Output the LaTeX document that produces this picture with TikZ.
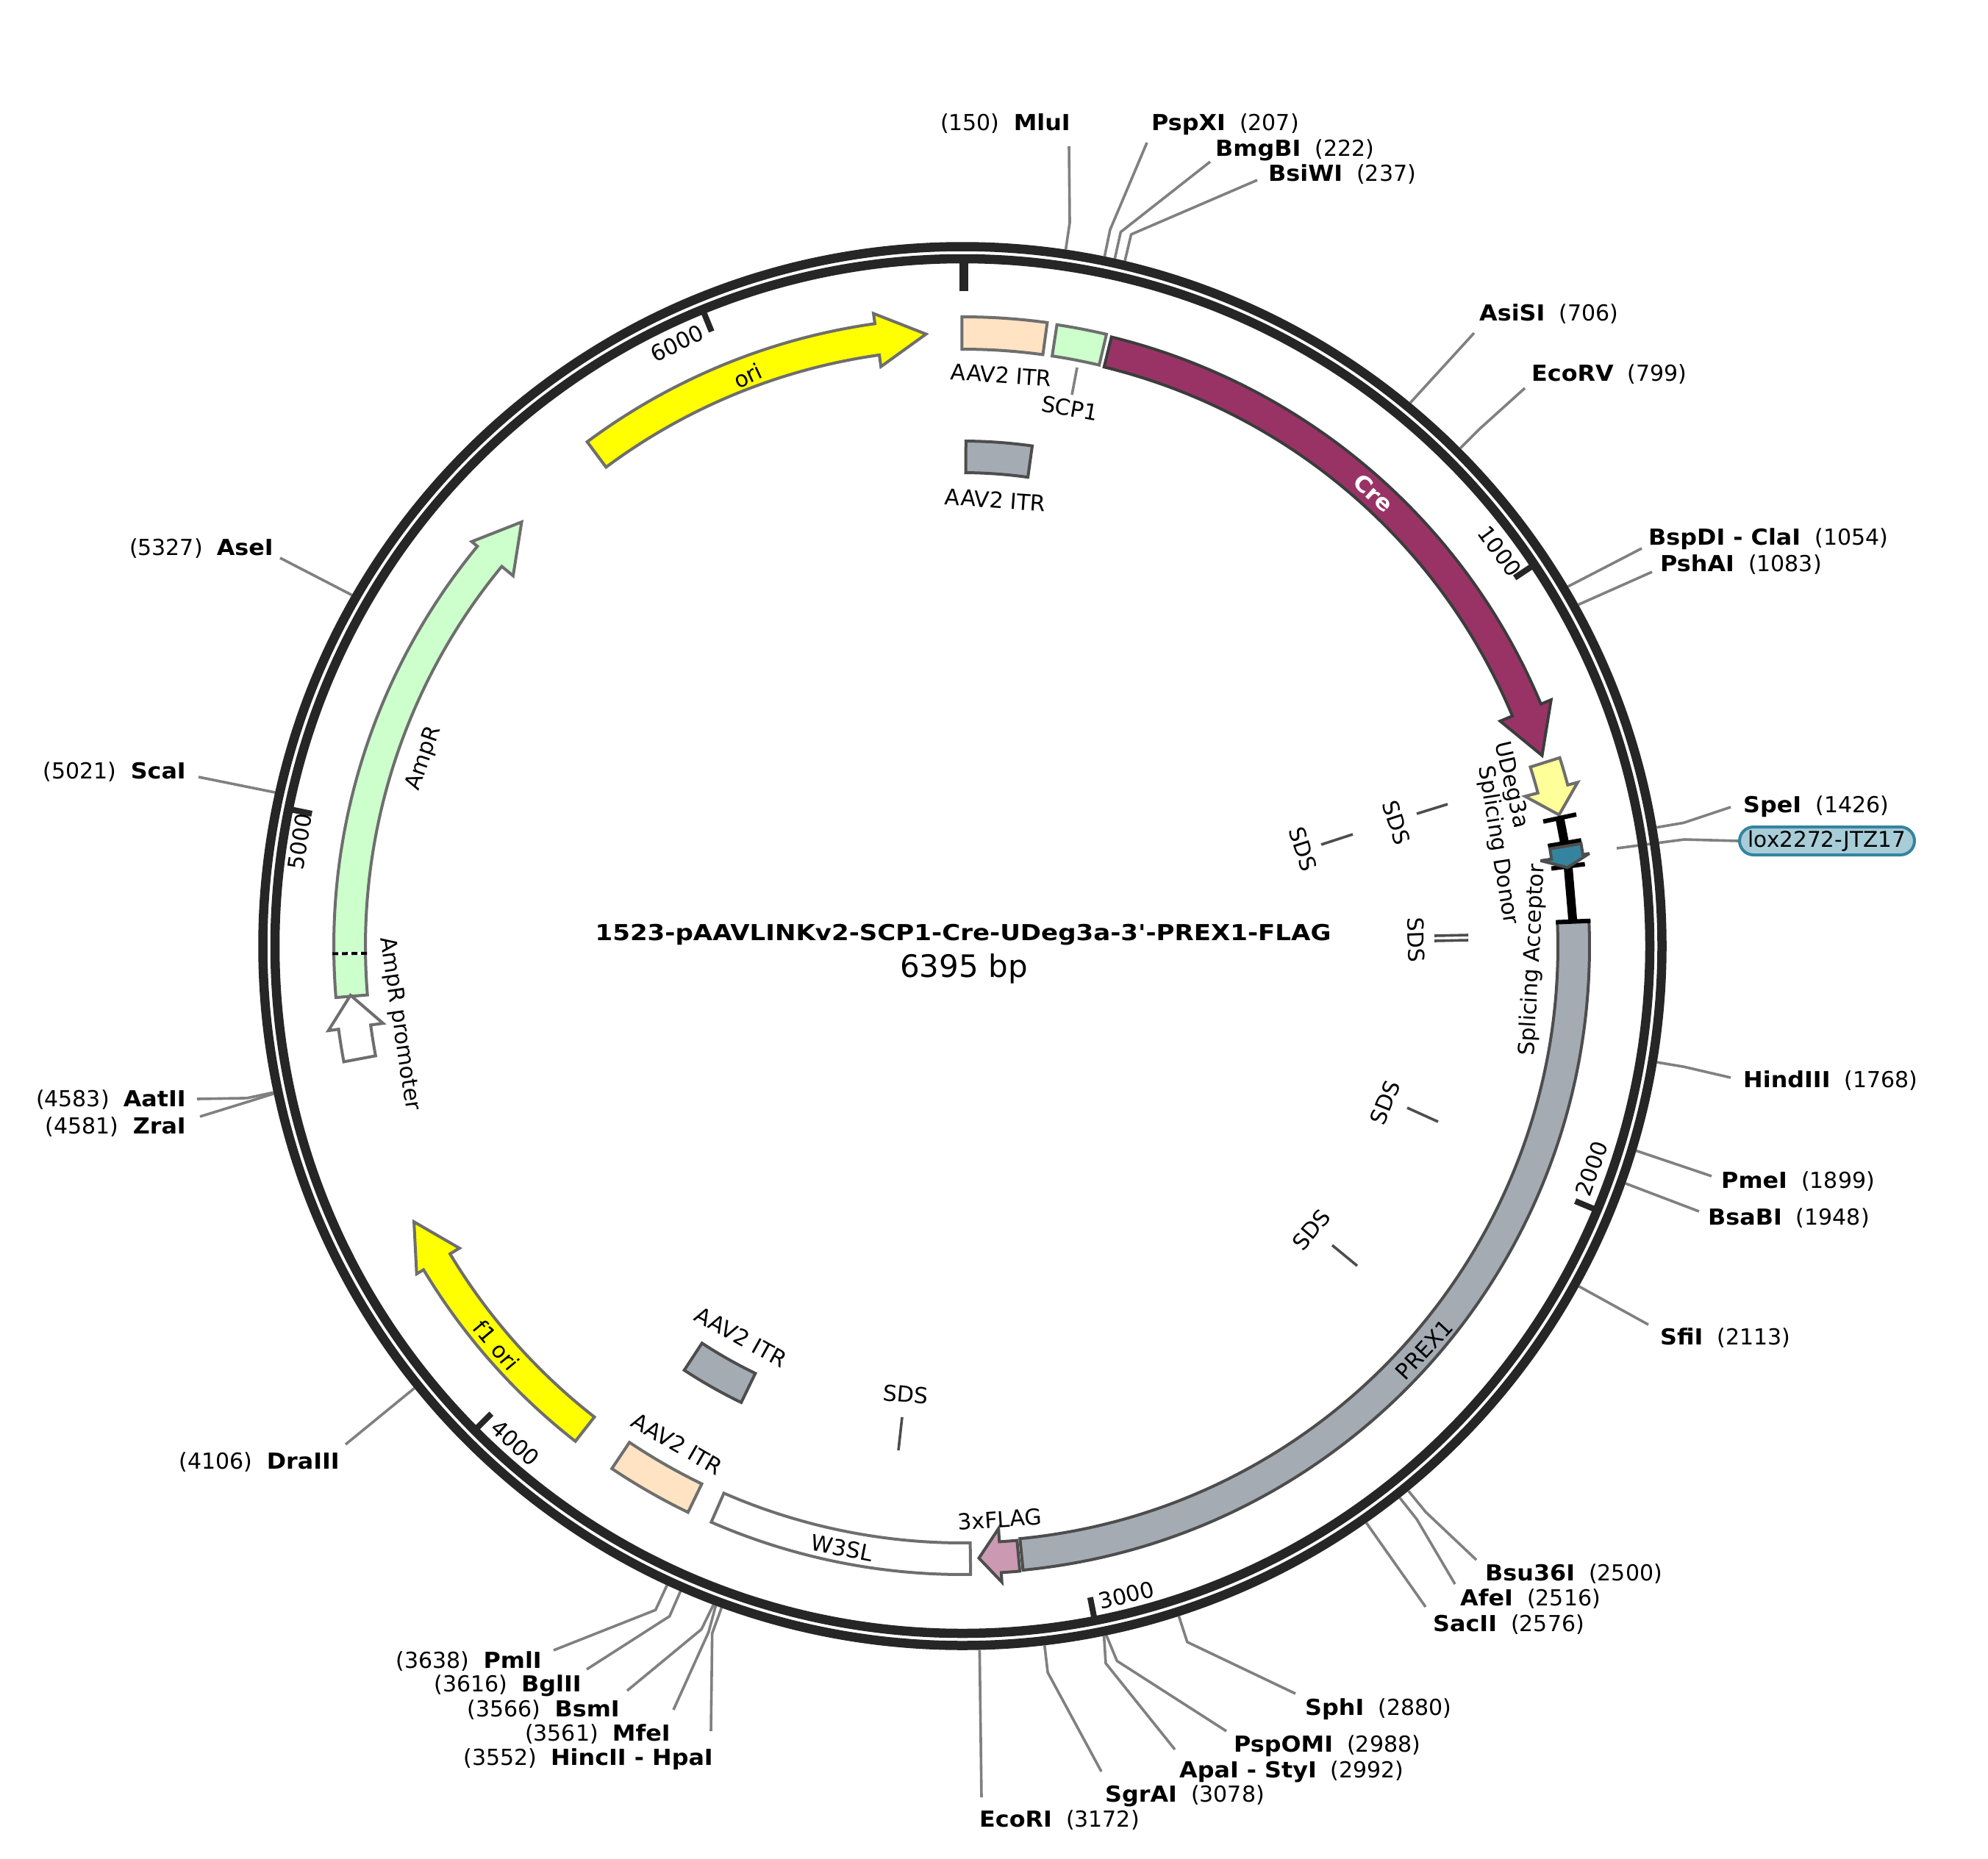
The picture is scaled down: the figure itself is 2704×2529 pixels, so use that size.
\documentclass[tikz,border=0pt]{standalone}
\usepackage{fontspec}
\setmainfont{DejaVu Sans}[BoldFeatures={FakeStretch=1.06}]
\newfontfamily\plainf{DejaVu Sans}[BoldFeatures={FakeStretch=1.135}]
\definecolor{ringc}{HTML}{262626}
\definecolor{leadc}{HTML}{808080}
\definecolor{edgeg}{HTML}{6E6E6E}
\definecolor{edged}{HTML}{4D4D4D}
\definecolor{crec}{HTML}{993366}
\definecolor{greyc}{HTML}{A4ABB3}
\definecolor{peach}{HTML}{FFE3C2}
\definecolor{green}{HTML}{CCFFCC}
\definecolor{yel}{HTML}{FFFF00}
\definecolor{lyel}{HTML}{FFFF99}
\definecolor{teal}{HTML}{34849F}
\definecolor{pillc}{HTML}{A8CDD8}
\definecolor{flagc}{HTML}{CC99B2}
\tikzset{
 lab/.style={inner sep=0pt,font=\fontsize{30}{34}\selectfont,text=black},
 flab/.style={inner sep=0pt,font=\fontsize{30}{34}\selectfont,text=black},
 leader/.style={draw=leadc,line width=3.6pt,line join=bevel},
 sdsline/.style={draw=edged,line width=3.6pt},
 band/.style={draw=edgeg,line width=4pt},
 dband/.style={draw=edged,line width=4pt},
 ringline/.style={draw=ringc},
 ticks/.style={draw=ringc,line width=8pt},
 polar/.style={shift={(1309,1287)},x=1pt,y=1pt}
}
\newcommand\feat[5]{\draw[#1] ({90-#4}:#3) arc[start angle={90-#4},end angle={90-#5},radius=#3] -- ({90-#5}:#2) arc[start angle={90-#5},end angle={90-#4},radius=#2] -- cycle;}
\newcommand\arrowfeat[9]{\draw[#1] ({90-#4}:#3) arc[start angle={90-#4},end angle={90-#5},radius=#3] -- ({90-#5}:#8) -- ({90-#6}:#9) -- ({90-#5}:#7) -- ({90-#5}:#2) arc[start angle={90-#5},end angle={90-#4},radius=#2] -- cycle;}
% id, site angle, elbow angle, end point, anchor, text position, text
\newcommand\site[7]{%
 \begin{scope}[polar]
  \coordinate (#1s) at ({90-#2}:958);
  \coordinate (#1e) at ({90-#3}:995);
 \end{scope}
 \coordinate (#1f) at (#4);
 \draw[leader] (#1s) -- (#1e) -- (#1f);
 \node[lab,anchor=#5] (#1) at (#6) {#7};}
% id, site angle, end point, anchor, text position, text
\newcommand\sitest[6]{%
 \begin{scope}[polar]
  \coordinate (#1s) at ({90-#2}:958);
 \end{scope}
 \coordinate (#1f) at (#3);
 \draw[leader] (#1s) -- (#1f);
 \node[lab,anchor=#4] (#1) at (#5) {#6};}
\newcommand\tickm[1]{\draw[ticks] ({90-#1}:934) -- ({90-#1}:903);}
\begin{document}
\begin{tikzpicture}[x=1pt,y=-1pt]
\useasboundingbox (0,0) rectangle (2704,2529);
\fill[white] (0,0) rectangle (2704,2529);
% enzyme sites
\site{mlu}{8.44}{8.44}{1454,199}{east}{1456,168}{(150)\ \ \textbf{MluI}}
\site{psp}{11.65}{11.65}{1560,194}{west}{1566,169}{\textbf{PspXI}\ \ (207)}
\site{bmg}{12.5}{12.5}{1646,220}{west}{1653,204}{\textbf{BmgBI}\ \ (222)}
\site{bsi}{13.34}{13.34}{1710,245}{west}{1725,237}{\textbf{BsiWI}\ \ (237)}
\sitest{asi}{39.5}{2005,453}{west}{2012,427}{\textbf{AsiSI}\ \ (706)}
\site{eco}{45}{45}{2074,528}{west}{2083,509}{\textbf{EcoRV}\ \ (799)}
\sitest{bsp}{59.3}{2233,746}{west}{2242,733}{\textbf{BspDI - ClaI}\ \ (1054)}
\sitest{psh}{61}{2247,778}{west}{2258,768}{\textbf{PshAI}\ \ (1083)}
\site{spe}{80.3}{80.3}{2354,1098}{west}{2371,1097}{\textbf{SpeI}\ \ (1426)}
\site{hin}{99.5}{99.5}{2354,1466}{west}{2371,1470}{\textbf{HindIII}\ \ (1768)}
\sitest{pme}{106.9}{2328,1600}{west}{2341,1607}{\textbf{PmeI}\ \ (1899)}
\sitest{bsa}{109.7}{2311,1648}{west}{2323,1657}{\textbf{BsaBI}\ \ (1948)}
\sitest{sfi}{118.9}{2242,1802}{west}{2258,1820}{\textbf{SfiI}\ \ (2113)}
\site{bsu}{140.7}{140.7}{2008,2122}{west}{2020,2141}{\textbf{Bsu36I}\ \ (2500)}
\site{afe}{141.6}{141.6}{1979,2155}{west}{1986,2175}{\textbf{AfeI}\ \ (2516)}
\sitest{sac}{145}{1939,2186}{west}{1949,2210}{\textbf{SacII}\ \ (2576)}
\site{sph}{162.1}{162.1}{1762,2304}{west}{1775,2325}{\textbf{SphI}\ \ (2880)}
\site{pso}{168.2}{167.8}{1668,2355}{west}{1678,2375}{\textbf{PspOMI}\ \ (2988)}
\site{apa}{168.4}{168.7}{1598,2380}{west}{1604,2410}{\textbf{ApaI - StyI}\ \ (2992)}
\site{sgr}{173.3}{173.3}{1498,2410}{west}{1503,2443}{\textbf{SgrAI}\ \ (3078)}
\sitest{eri}{178.6}{1335,2445}{west}{1332,2476}{\textbf{EcoRI}\ \ (3172)}
\site{hnc}{200}{200}{967,2355}{east}{970,2393}{(3552)\ \ \textbf{HincII - HpaI}}
\site{mfe}{200.5}{200.3}{916,2326}{east}{912,2359}{(3561)\ \ \textbf{MfeI}}
\site{bsm}{200.7}{200.9}{853,2300}{east}{843,2326}{(3566)\ \ \textbf{BsmI}}
\site{bgl}{203.6}{203.6}{798,2271}{east}{791,2293}{(3616)\ \ \textbf{BglII}}
\site{pml}{204.8}{204.8}{753,2245}{east}{737,2260}{(3638)\ \ \textbf{PmlI}}
\sitest{dra}{231.1}{470,1965}{east}{462,1989}{(4106)\ \ \textbf{DraIII}}
\site{zra}{257.9}{257.7}{272,1519}{east}{253,1533}{(4581)\ \ \textbf{ZraI}}
\site{aat}{258}{258}{268,1495}{east}{253,1496}{(4583)\ \ \textbf{AatII}}
\sitest{sca}{282.6}{270,1057}{east}{253,1050}{(5021)\ \ \textbf{ScaI}}
\sitest{ase}{299.9}{381,759}{east}{372,746}{(5327)\ \ \textbf{AseI}}
% lox leader and pill
\node[draw=teal,fill=pillc,line width=4pt,rounded corners=19pt,minimum width=238pt,minimum height=38pt,inner sep=0pt,font=\fontsize{29.5}{34}\selectfont] (lox) at (2485,1144) {lox2272-JTZ17};
\coordinate (loxa) at (2199,1154);
\coordinate (loxb) at (2291,1142);
\draw[leader] (loxa) -- (loxb) -- (lox.west);
% rings
\begin{scope}[polar]
\draw[ringline,line width=12.5pt] (0,0) circle[radius=951.5];
\draw[ringline,line width=12.5pt] (0,0) circle[radius=935];
\draw[draw=ringc,line width=12pt] (1.5,934) -- (1.5,891);
\tickm{56.3}\tickm{112.6}\tickm{168.9}\tickm{225.2}\tickm{281.5}\tickm{337.8}
% ori
\arrowfeat{band,fill=yel}{812}{855}{-36.65}{-8}{-3.4}{796}{869}{834}
\feat{band,fill=peach}{812}{856}{-0.05}{7.75}
\feat{band,fill=green}{812}{855}{8.65}{13.25}
\arrowfeat{draw=ringc!90,line width=4pt,fill=crec}{811}{853}{13.75}{67.3}{71.8}{793}{868}{830}
\feat{dband,fill=greyc}{644}{687}{0.4}{7.95}
\arrowfeat{band,fill=lyel}{810}{852}{72.5}{75.1}{77.6}{792}{866}{831}
% black splicing elements
\draw[line width=12pt,draw=black] ({90-77.9}:831) -- ({90-80.3}:831);
\draw[line width=6pt,draw=black] ({90-77.9}:808) -- ({90-77.9}:854);
\draw[line width=6pt,draw=black] ({90-80.3}:808) -- ({90-80.3}:854);
\draw[line width=12pt,draw=black] ({90-82.5}:831) -- ({90-87.7}:831);
\draw[line width=6pt,draw=black] ({90-82.5}:808) -- ({90-82.5}:854);
\arrowfeat{dband,fill=teal,miter limit=3}{810}{853}{80.6}{81.6}{82.6}{795}{862}{830}
\feat{dband,fill=greyc}{810}{853}{87.7}{174.45}
\draw[line width=6pt,draw=black] ({90-87.7}:808) -- ({90-87.7}:855);
\arrowfeat{dband,fill=flagc}{812}{854}{174.75}{176.45}{178.45}{794}{867}{833}
\feat{band,fill=white}{812}{855}{179.25}{203.55}
\feat{band,fill=peach}{813}{856}{205.85}{213.85}
\feat{dband,fill=greyc}{646}{690}{205.85}{213.25}
\arrowfeat{band,fill=yel}{813}{855}{218}{239}{243.3}{798}{866}{835}
% AmpR
\arrowfeat{band,fill=green}{812}{855}{265.3}{309.5}{313.9}{792}{865}{832}
\draw[draw=white,line width=4pt] ({90-269.3}:812) -- ({90-269.3}:855);
\draw[draw=black,line width=4pt,dash pattern=on 8pt off 5pt] ({90-269.3}:810) -- ({90-269.3}:857);
\arrowfeat{band,fill=white}{812}{856}{259.4}{262.4}{265.4}{795}{870}{835}
\end{scope}
% tick labels
\node[flab,rotate=-54] (t1) at (2040,750) {1000};
\node[flab,rotate=70.5] (t2) at (2165,1590) {2000};
\node[flab,rotate=14] (t3) at (1532,2170) {3000};
\node[flab,rotate=-42] (t4) at (701,1963) {4000};
\node[flab,rotate=81] (t5) at (408,1145) {5000};
\node[flab,rotate=25.3] (t6) at (921,467) {6000};
% feature labels
\node[flab,rotate=25] (fori) at (1017,511) {ori};
\node[flab,rotate=-42,text=white] (fcre) at (1868,671) {\textbf{Cre}};
\node[flab,rotate=-4] (fitr1) at (1362,510) {AAV2 ITR};
\node[flab,rotate=-10] (fscp) at (1455,555) {SCP1};
\coordinate (scpa) at (1465,500);
\coordinate (scpb) at (1458,537);
\draw[leader] (scpa) -- (scpb);
\node[flab,rotate=-4] (fitr2) at (1354,680) {AAV2 ITR};
\node[flab,rotate=-77] (fudeg) at (2055,1068) {UDeg3a};
\node[flab,rotate=-81] (fdon) at (2037,1150) {Splicing Donor};
\node[flab,rotate=87] (facc) at (2085,1306) {Splicing Acceptor};
\node[flab,rotate=47] (fprex) at (1937,1836) {PREX1};
\node[flab,rotate=4] (fflag) at (1360,2067) {3xFLAG};
\node[flab,rotate=-11] (fw3) at (1145,2106) {W3SL};
\node[flab,rotate=-30] (fitr3) at (921,1964) {AAV2 ITR};
\node[flab,rotate=-29] (fitr4) at (1008,1819) {AAV2 ITR};
\node[flab,rotate=-50] (ff1) at (675,1830) {f1 ori};
\node[flab,rotate=-81.5] (fprom) at (543,1393) {AmpR promoter};
\node[flab,rotate=71] (famp) at (577,1032) {AmpR};
% SDS
\node[flab,rotate=-72] (sd1) at (1899,1119) {SDS};
\coordinate (sd1a) at (1927,1107); \coordinate (sd1b) at (1969,1094);
\draw[sdsline] (sd1a) -- (sd1b);
\node[flab,rotate=-72] (sd2) at (1772,1155) {SDS};
\coordinate (sd2a) at (1797,1149); \coordinate (sd2b) at (1840,1135);
\draw[sdsline] (sd2a) -- (sd2b);
\node[flab,rotate=-88] (sd3) at (1926,1279) {SDS};
\coordinate (sd3a) at (1951,1273); \coordinate (sd3b) at (1997,1272);
\coordinate (sd3c) at (1951,1280); \coordinate (sd3d) at (1997,1279);
\draw[sdsline] (sd3a) -- (sd3b);
\draw[sdsline] (sd3c) -- (sd3d);
\node[flab,rotate=68] (sd4) at (1884,1500) {SDS};
\coordinate (sd4a) at (1914,1507); \coordinate (sd4b) at (1956,1526);
\draw[sdsline] (sd4a) -- (sd4b);
\node[flab,rotate=50] (sd5) at (1784,1673) {SDS};
\coordinate (sd5a) at (1812,1694); \coordinate (sd5b) at (1846,1722);
\draw[sdsline] (sd5a) -- (sd5b);
\node[flab,rotate=-5] (sd6) at (1232,1897) {SDS};
\coordinate (sd6a) at (1227,1928); \coordinate (sd6b) at (1222,1973);
\draw[sdsline] (sd6a) -- (sd6b);
% title
\node[inner sep=0pt,font=\plainf\fontsize{30}{34}\selectfont\bfseries] (title) at (1310,1272) {1523-pAAVLINKv2-SCP1-Cre-UDeg3a-3'-PREX1-FLAG};
\node[inner sep=0pt,font=\fontsize{42}{46}\selectfont] (size) at (1311,1318) {6395 bp};
\end{tikzpicture}
\end{document}
